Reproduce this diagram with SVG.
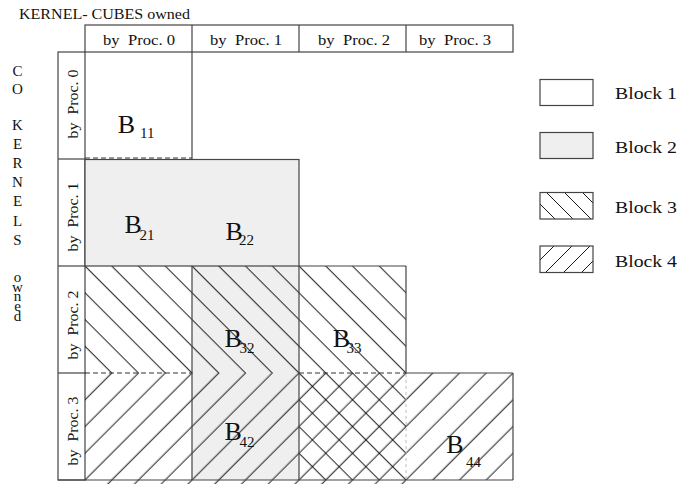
<svg xmlns="http://www.w3.org/2000/svg" width="690" height="484" viewBox="0 0 690 484">
<style>
text{font-family:"Liberation Serif","Times New Roman",serif;fill:#111}
.ol{fill:none;stroke:#444;stroke-width:1.2}
.hl{stroke:#000;stroke-width:0.9}
.dash{stroke:#333;stroke-width:1.1;stroke-dasharray:5 3;fill:none}
.grey{fill:#efefef}
.hd{font-size:15px;text-anchor:middle}
.side{font-size:15px;text-anchor:middle}
.bb{font-size:26px}
.sub{font-size:15px}
.lg{font-size:17.5px}
</style>
<defs>
<pattern id="hatch3" patternUnits="userSpaceOnUse" width="18.915" height="20" patternTransform="rotate(-45)">
<line class="hl" x1="4.384" y1="-2" x2="4.384" y2="22"/>
</pattern>
<pattern id="hatch4" patternUnits="userSpaceOnUse" width="18.915" height="20" patternTransform="rotate(45)">
<line class="hl" x1="2.263" y1="-2" x2="2.263" y2="22"/>
</pattern>
</defs>
<rect x="0" y="0" width="690" height="484" fill="#fff"/>

<text x="19" y="19" font-size="14.5" textLength="171" lengthAdjust="spacingAndGlyphs">KERNEL- CUBES owned</text>

<g id="side-label">
<text class="side" x="17.5" y="76">C</text>
<text class="side" x="17.5" y="93.5">O</text>
<text class="side" x="17.5" y="130">K</text>
<text class="side" x="17.5" y="149">E</text>
<text class="side" x="17.5" y="167.5">R</text>
<text class="side" x="17.5" y="187">N</text>
<text class="side" x="17.5" y="206">E</text>
<text class="side" x="17.5" y="225.5">L</text>
<text class="side" x="17.5" y="245">S</text>
<text class="side" x="17.5" y="282">o</text>
<text class="side" x="17.5" y="291.5">w</text>
<text class="side" x="17.5" y="301">n</text>
<text class="side" x="17.5" y="311">e</text>
<text class="side" x="17.5" y="321">d</text>
</g>

<g id="header">
<rect class="ol" x="85" y="25" width="428" height="27"/>
<line class="ol" x1="192" y1="25" x2="192" y2="52"/>
<line class="ol" x1="299" y1="25" x2="299" y2="52"/>
<line class="ol" x1="406" y1="25" x2="406" y2="52"/>
<text class="hd" x="139" y="45" textLength="72" lengthAdjust="spacingAndGlyphs" xml:space="preserve">by  Proc. 0</text>
<text class="hd" x="246" y="45" textLength="72" lengthAdjust="spacingAndGlyphs" xml:space="preserve">by  Proc. 1</text>
<text class="hd" x="354" y="45" textLength="72" lengthAdjust="spacingAndGlyphs" xml:space="preserve">by  Proc. 2</text>
<text class="hd" x="455" y="45" textLength="72" lengthAdjust="spacingAndGlyphs" xml:space="preserve">by  Proc. 3</text>
</g>

<g id="row-labels">
<rect class="ol" x="58" y="52" width="27" height="428"/>
<line class="ol" x1="58" y1="159" x2="85" y2="159"/>
<line class="ol" x1="58" y1="266" x2="85" y2="266"/>
<line class="ol" x1="58" y1="373" x2="85" y2="373"/>
<text class="hd" transform="translate(78,104) rotate(-90)" textLength="69" lengthAdjust="spacingAndGlyphs" xml:space="preserve">by  Proc. 0</text>
<text class="hd" transform="translate(78,217) rotate(-90)" textLength="69" lengthAdjust="spacingAndGlyphs" xml:space="preserve">by  Proc. 1</text>
<text class="hd" transform="translate(78,325) rotate(-90)" textLength="69" lengthAdjust="spacingAndGlyphs" xml:space="preserve">by  Proc. 2</text>
<text class="hd" transform="translate(78,431) rotate(-90)" textLength="69" lengthAdjust="spacingAndGlyphs" xml:space="preserve">by  Proc. 3</text>
</g>

<g id="block2-area">
<rect class="grey" x="85" y="159" width="214" height="107"/>
<rect class="grey" x="192" y="266" width="107" height="214"/>
</g>

<g id="block3-area">
<rect x="85" y="266" width="321" height="107" fill="url(#hatch3)"/>
<rect x="299" y="373" width="107" height="107" fill="url(#hatch3)"/>
</g>

<g id="block4-area">
<rect x="85" y="373" width="428" height="107" fill="url(#hatch4)"/>
<rect x="85" y="480" width="321" height="4" fill="url(#hatch4)"/>
</g>

<g id="outlines">
<line class="ol" x1="192" y1="52" x2="192" y2="159"/>
<line class="dash" x1="85" y1="158" x2="192" y2="158"/>
<rect class="ol" x="85" y="159.5" width="214" height="106.5"/>
<line class="ol" x1="299" y1="266" x2="406" y2="266"/>
<line class="ol" x1="406" y1="266" x2="406" y2="373"/>
<line class="ol" x1="192" y1="266" x2="192" y2="480"/>
<line class="ol" x1="299" y1="266" x2="299" y2="480"/>
<line class="ol" x1="406" y1="373" x2="513" y2="373"/>
<line class="ol" x1="513" y1="373" x2="513" y2="480"/>
<line class="ol" x1="58" y1="480" x2="513" y2="480"/>
<line class="dash" x1="85" y1="373" x2="192" y2="373"/>
<line class="dash" x1="299" y1="373" x2="406" y2="373"/>
<line x1="406" y1="374" x2="406" y2="480" stroke="#bbb" stroke-width="1" stroke-dasharray="3 3"/>
</g>

<g id="B11"><text class="bb" x="117.8" y="133.3">B</text><text class="sub" x="140" y="138.3">11</text></g>
<g id="B21"><text class="bb" x="124.5" y="233.3">B</text><text class="sub" x="139.5" y="240">21</text></g>
<g id="B22"><text class="bb" x="225.5" y="240">B</text><text class="sub" x="239" y="245">22</text></g>
<g id="B32"><text class="bb" x="224.5" y="346.7">B</text><text class="sub" x="239.5" y="353">32</text></g>
<g id="B33"><text class="bb" x="332.8" y="346.7">B</text><text class="sub" x="346.5" y="353">33</text></g>
<g id="B42"><text class="bb" x="224.5" y="440">B</text><text class="sub" x="239.5" y="446.7">42</text></g>
<g id="B44"><text class="bb" x="446.2" y="453.3">B</text><text class="sub" x="466" y="466.7" fill="#444">44</text></g>

<g id="legend-block1">
<rect class="ol" x="540" y="79.5" width="53" height="26" fill="#fff"/>
<text class="lg" x="615" y="98.5" textLength="62" lengthAdjust="spacingAndGlyphs">Block 1</text>
</g>
<g id="legend-block2">
<rect class="ol grey" x="540" y="132.5" width="53" height="26" style="fill:#efefef"/>
<text class="lg" x="615" y="153" textLength="62" lengthAdjust="spacingAndGlyphs">Block 2</text>
</g>
<g id="legend-block3">
<line class="hl" x1="540" y1="204" x2="555" y2="219"/>
<line class="hl" x1="546" y1="192" x2="573" y2="219"/>
<line class="hl" x1="564" y1="192" x2="591" y2="219"/>
<line class="hl" x1="582" y1="192" x2="593" y2="203"/>
<rect class="ol" x="540" y="192.5" width="53" height="26.5"/>
<text class="lg" x="615" y="213" textLength="62" lengthAdjust="spacingAndGlyphs">Block 3</text>
</g>
<g id="legend-block4">
<line class="hl" x1="540" y1="260" x2="554" y2="246"/>
<line class="hl" x1="546" y1="272" x2="572" y2="246"/>
<line class="hl" x1="564" y1="272" x2="590" y2="246"/>
<line class="hl" x1="582" y1="272" x2="593" y2="261"/>
<rect class="ol" x="540" y="246" width="53" height="26.5"/>
<text class="lg" x="615" y="266.7" textLength="62" lengthAdjust="spacingAndGlyphs">Block 4</text>
</g>
</svg>
